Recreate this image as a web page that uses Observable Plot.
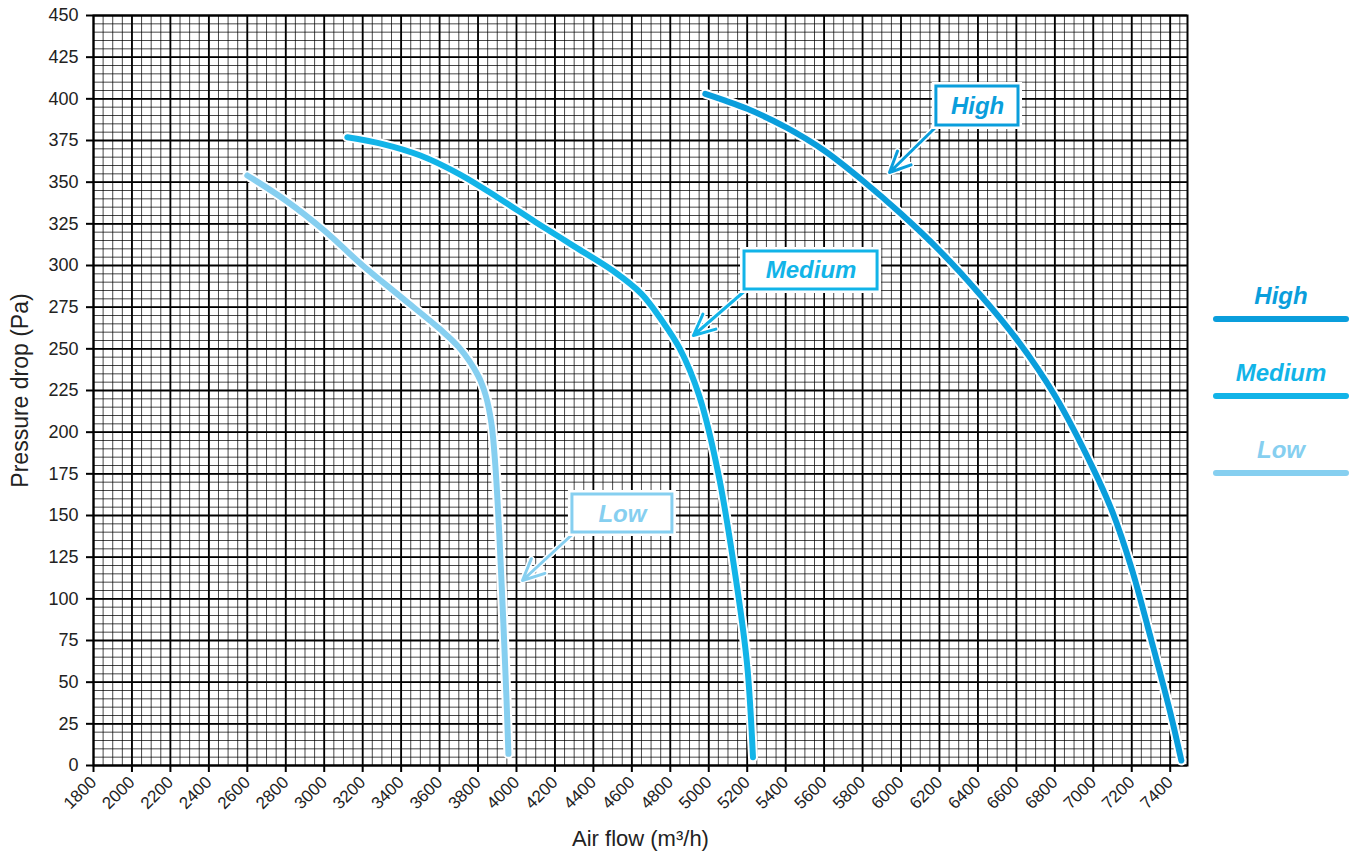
<!DOCTYPE html>
<html>
<head>
<meta charset="utf-8">
<script src="https://cdn.jsdelivr.net/npm/d3@7"></script>
<script src="https://cdn.jsdelivr.net/npm/@observablehq/plot@0.6"></script>
<style>
  html, body { margin: 0; padding: 0; background: #fff; }
  #wrap { position: relative; width: 1360px; height: 857px; font-family: "Liberation Sans", Arial, Helvetica, sans-serif; }
  #wrap svg { display: block; }
  .leg { position: absolute; left: 1213px; width: 136px; text-align: center; }
  .leg .t { font-size: 24px; line-height: 26px; font-weight: bold; font-style: italic; }
  .leg .l { margin-top: 7px; height: 6px; border-radius: 3px; }
</style>
</head>
<body>
<div id="wrap"></div>
<script>
// ---- data ----
const seriesNames  = ["High", "Medium", "Low"];
const seriesColors = ["#0a9edc", "#12b4e8", "#86cff0"];

// Air flow (m³/h) / Pressure drop (Pa)
const highFlow   = [4982, 5200, 5400, 5600, 5800, 6000, 6200, 6400, 6600, 6800, 7000, 7100, 7200, 7300, 7400, 7458];
const highPress  = [ 403,  394,  383,  369,  351,  331,  309,  284,  256,  222,  178,  152,  118,   76,   32,    3];

const medFlow    = [3120, 3300, 3500, 3700, 3900, 4100, 4300, 4500, 4650, 4750, 4850, 4950, 5050, 5150, 5200, 5230];
const medPress   = [ 377,  373,  366,  355,  341,  326,  311.5, 297, 283,  268,  250,  222,  175,  105,   60,    5];

const lowFlow    = [2600, 2800, 3000, 3200, 3400, 3600, 3700, 3800, 3840, 3870, 3890, 3910, 3930, 3948, 3958];
const lowPress   = [ 354,  339,  321,  300,  281,  262,  251,  234,  222,  205,  180,  140,   90,   40,    7];

// annotation callouts (data units): text centre, box corners, arrow start / tip
const calloutName = ["High", "Medium", "Low"];
const calloutTx   = [6398, 5532, 4551];
const calloutTy   = [395.5, 297, 151];
const calloutBx1  = [6184, 5186, 4291];
const calloutBx2  = [6611, 5878, 4811];
const calloutBy1  = [384, 285.6, 139.8];
const calloutBy2  = [407.4, 308.4, 162.6];
const calloutAx1  = [6195, 5196, 4301];
const calloutAy1  = [384.6, 285.6, 139.8];
const calloutAx2  = [5940, 4920, 4031];
const calloutAy2  = [355.8, 258, 111];

const xTicks = [1800, 2000, 2200, 2400, 2600, 2800, 3000, 3200, 3400, 3600, 3800, 4000, 4200, 4400, 4600, 4800,
                5000, 5200, 5400, 5600, 5800, 6000, 6200, 6400, 6600, 6800, 7000, 7200, 7400];
const yTicks = [0, 25, 50, 75, 100, 125, 150, 175, 200, 225, 250, 275, 300, 325, 350, 375, 400, 425, 450];

const xLabel = "Air flow (m³/h)";
const yLabel = "Pressure drop (Pa)";

// ---- build tables ----
const curves = [
  {name: "High",   flow: highFlow, press: highPress},
  {name: "Medium", flow: medFlow,  press: medPress},
  {name: "Low",    flow: lowFlow,  press: lowPress}
].map(s => ({name: s.name, color: seriesColors[seriesNames.indexOf(s.name)],
             pts: s.flow.map((f, i) => ({flow: f, press: s.press[i]}))}));

const callouts = calloutName.map((n, i) => ({
  name: n, color: seriesColors[seriesNames.indexOf(n)],
  tx: calloutTx[i], ty: calloutTy[i],
  bx1: calloutBx1[i], bx2: calloutBx2[i], by1: calloutBy1[i], by2: calloutBy2[i],
  ax1: calloutAx1[i], ay1: calloutAy1[i], ax2: calloutAx2[i], ay2: calloutAy2[i]
}));

const minorX = d3.range(1800, 7490, 50);
const minorY = d3.range(0, 451, 5);

const curveMarks = [];
for (const c of curves.slice().reverse()) {
  curveMarks.push(Plot.line(c.pts, {x: "flow", y: "press", stroke: "white", strokeWidth: 10,
    curve: "catmull-rom", strokeLinecap: "round", strokeLinejoin: "round"}));
  curveMarks.push(Plot.line(c.pts, {x: "flow", y: "press", stroke: c.color, strokeWidth: 6,
    curve: "catmull-rom", strokeLinecap: "round", strokeLinejoin: "round"}));
}

const calloutMarks = [];
for (const c of callouts) {
  calloutMarks.push(Plot.arrow([c], {x1: "ax1", y1: "ay1", x2: "ax2", y2: "ay2", stroke: "white",
    strokeWidth: 6, headLength: 12, headAngle: 50}));
  calloutMarks.push(Plot.arrow([c], {x1: "ax1", y1: "ay1", x2: "ax2", y2: "ay2", stroke: c.color,
    strokeWidth: 3, headLength: 12, headAngle: 50}));
  calloutMarks.push(Plot.rect([c], {x1: "bx1", x2: "bx2", y1: "by1", y2: "by2", fill: "white",
    stroke: "white", strokeWidth: 8}));
  calloutMarks.push(Plot.rect([c], {x1: "bx1", x2: "bx2", y1: "by1", y2: "by2", fill: "white",
    stroke: c.color, strokeWidth: 3}));
  calloutMarks.push(Plot.text([c], {x: "tx", y: "ty", text: "name", fill: c.color, fontSize: 24,
    fontWeight: "bold", fontStyle: "italic", fontFamily: "'Liberation Sans', Arial, sans-serif"}));
}

const chart = Plot.plot({
  width: 1360,
  height: 857,
  marginLeft: 93,
  marginRight: 173,
  marginTop: 15,
  marginBottom: 92,
  x: {domain: [1800, 7490]},
  y: {domain: [0, 450]},
  style: {fontFamily: "'Liberation Sans', Arial, Helvetica, sans-serif", background: "white", color: "#222"},
  marks: [
    Plot.ruleX(minorX, {stroke: "#000", strokeOpacity: 0.72, strokeWidth: 1}),
    Plot.ruleY(minorY, {stroke: "#000", strokeOpacity: 0.72, strokeWidth: 1}),
    Plot.ruleX(xTicks, {stroke: "#000", strokeWidth: 1.8}),
    Plot.ruleY(yTicks, {stroke: "#000", strokeWidth: 1.8}),
    Plot.frame({stroke: "#000", strokeWidth: 2}),
    Plot.axisX({ticks: xTicks, tickSize: 7, tickPadding: 7, tickRotate: -45, fontSize: 17,
      tickFormat: d => String(d), strokeWidth: 2, stroke: "#000", label: null}),
    Plot.axisY({ticks: yTicks, tickSize: 7, tickPadding: 8, fontSize: 18,
      tickFormat: d => String(d), strokeWidth: 2, stroke: "#000", label: null}),
    Plot.text([xLabel], {frameAnchor: "bottom", dy: 73, textAnchor: "middle", lineAnchor: "middle",
      fontSize: 22, fill: "#222"}),
    Plot.text([yLabel], {frameAnchor: "left", dx: -73, rotate: -90, textAnchor: "middle", lineAnchor: "middle",
      fontSize: 23, fill: "#222"}),
    ...curveMarks,
    ...calloutMarks
  ]
});

const wrap = document.getElementById("wrap");
wrap.appendChild(chart);

// legend on the right
seriesNames.forEach((n, i) => {
  const d = document.createElement("div");
  d.className = "leg";
  d.style.top = (283 + i * 77) + "px";
  const t = document.createElement("div");
  t.className = "t"; t.textContent = n; t.style.color = seriesColors[i];
  const l = document.createElement("div");
  l.className = "l"; l.style.background = seriesColors[i];
  d.appendChild(t); d.appendChild(l);
  wrap.appendChild(d);
});
</script>
</body>
</html>
